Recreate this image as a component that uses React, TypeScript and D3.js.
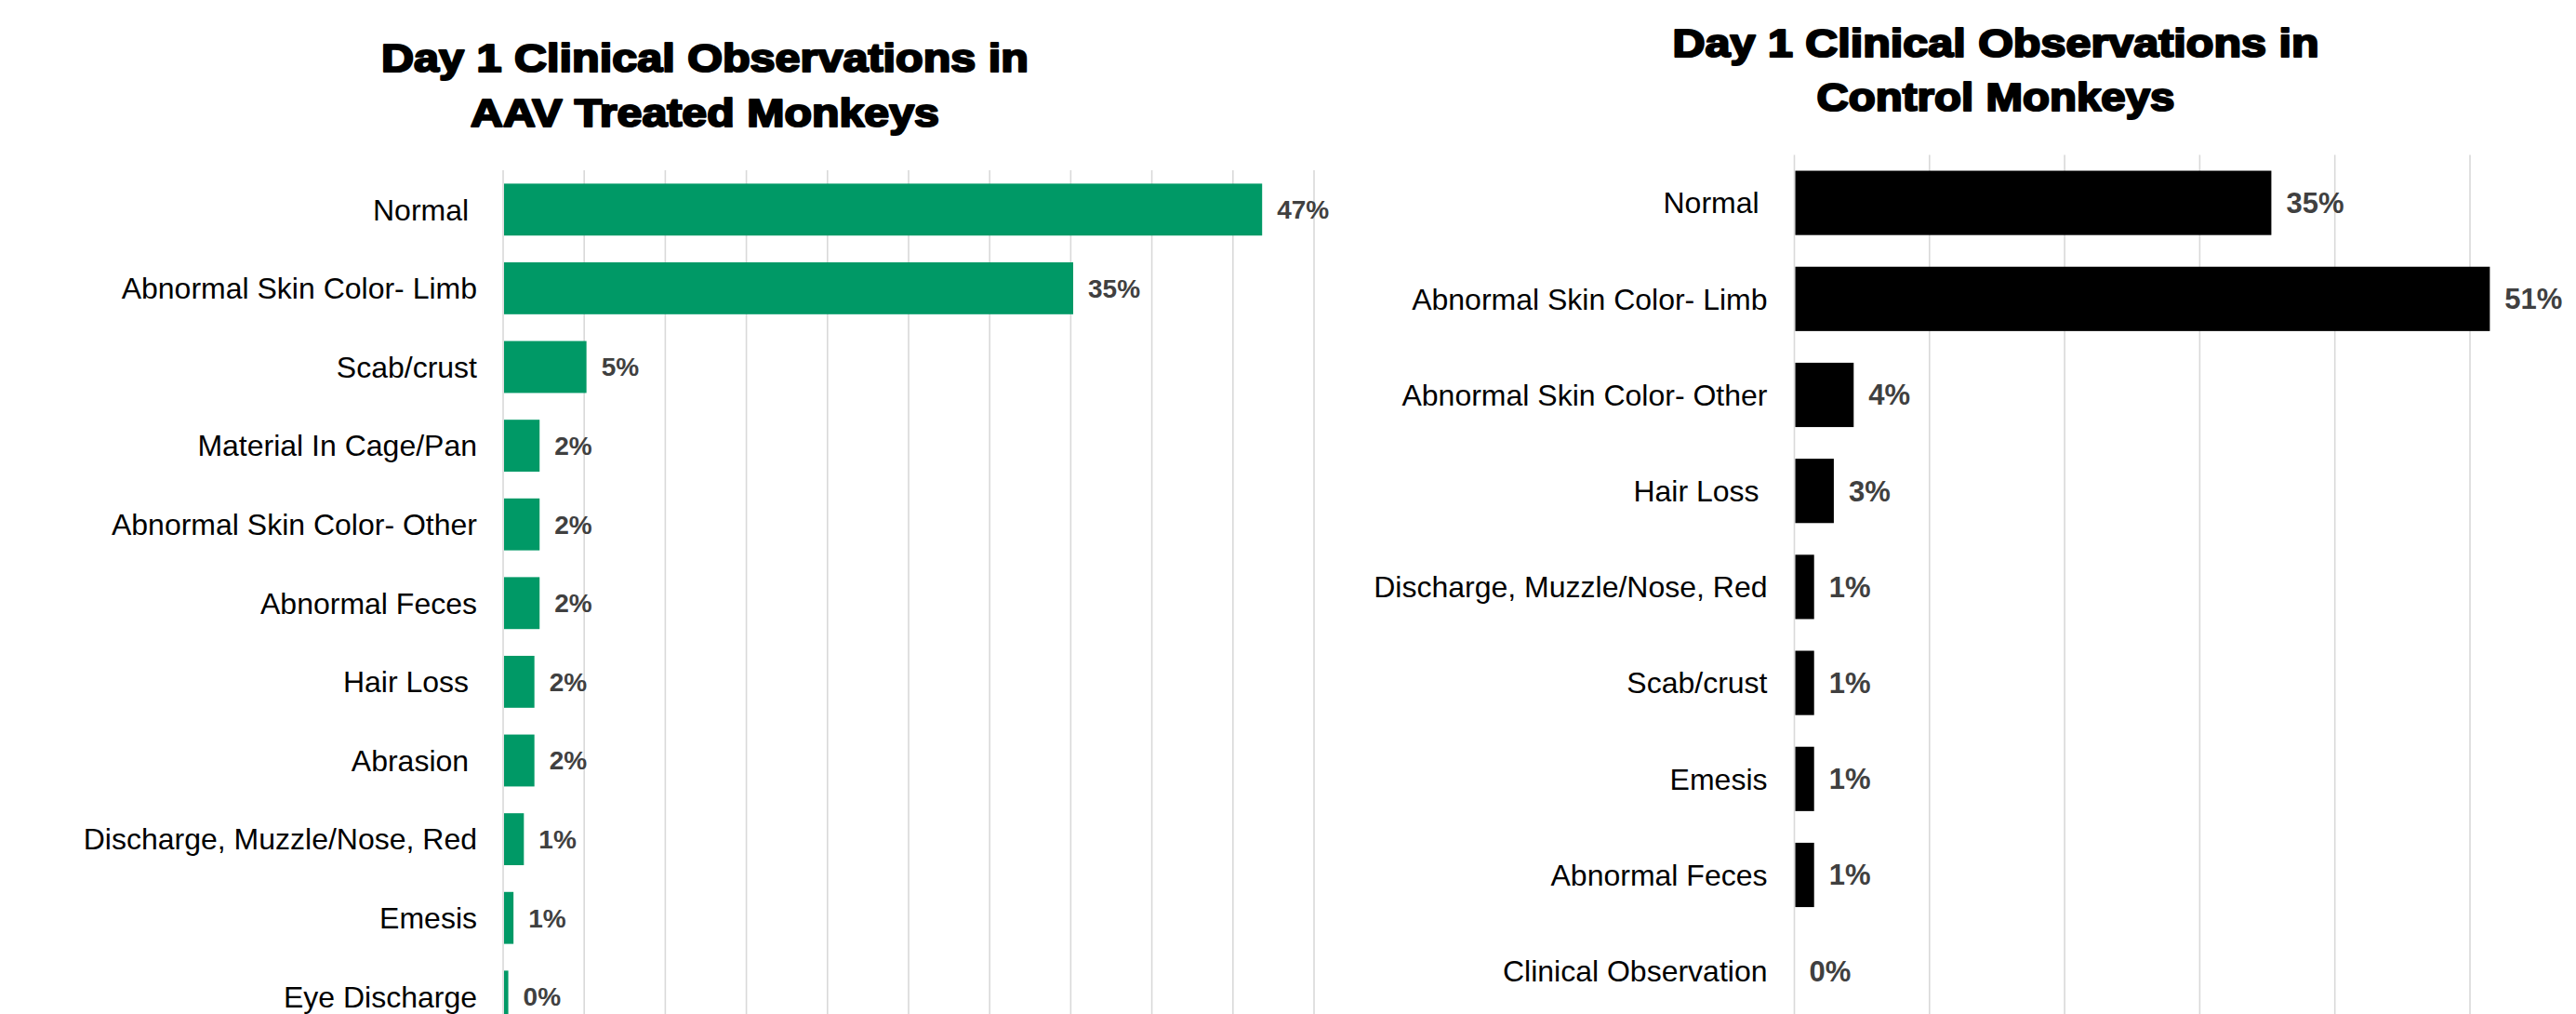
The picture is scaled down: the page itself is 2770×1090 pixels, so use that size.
import React from "react";
import * as d3 from "d3";

// AAV-treated group (share of observations)
const aavCategories = [
  "Normal ",
  "Abnormal Skin Color- Limb",
  "Scab/crust",
  "Material In Cage/Pan",
  "Abnormal Skin Color- Other",
  "Abnormal Feces",
  "Hair Loss ",
  "Abrasion ",
  "Discharge, Muzzle/Nose, Red",
  "Emesis",
  "Eye Discharge",
];
const aavValues = [0.468, 0.3515, 0.0514, 0.0225, 0.0225, 0.0225, 0.0193, 0.0193, 0.0128, 0.0064, 0.0032];

// Control group (share of observations)
const controlCategories = [
  "Normal ",
  "Abnormal Skin Color- Limb",
  "Abnormal Skin Color- Other",
  "Hair Loss ",
  "Discharge, Muzzle/Nose, Red",
  "Scab/crust",
  "Emesis",
  "Abnormal Feces",
  "Clinical Observation",
];
const controlValues = [0.353, 0.5147, 0.0439, 0.0292, 0.0146, 0.0146, 0.0146, 0.0146, 0];

const aavTitle = ["Day 1 Clinical Observations in", "AAV Treated Monkeys"];
const controlTitle = ["Day 1 Clinical Observations in", "Control Monkeys"];

const W = 2770;
const H = 1090;
const pct = d3.format(".0%");

type PanelProps = {
  categories: string[];
  values: number[];
  title: string[];
  titleX: number;
  titleBaselines: number[];
  titleLengths: number[];
  xDomainMax: number;
  tickCount: number;
  xRange: [number, number];
  yRange: [number, number];
  padInner: number;
  color: string;
  valueFontSize: number;
  labelGap: number;
};

function Panel(p: PanelProps) {
  const x = d3.scaleLinear().domain([0, p.xDomainMax]).range(p.xRange);
  const y = d3
    .scaleBand<string>()
    .domain(p.categories)
    .range(p.yRange)
    .paddingInner(p.padInner)
    .paddingOuter(p.padInner / 2);
  const ticks = x.ticks(p.tickCount);
  const gridTop = p.yRange[0];
  const gridBottom = p.yRange[1];

  return (
    <g>
      {p.title.map((t, i) => (
        <text
          key={i}
          x={p.titleX}
          y={p.titleBaselines[i]}
          textAnchor="middle"
          fontFamily="'Liberation Sans', Arial, sans-serif"
          fontWeight={700}
          fontSize={42}
          fill="#000"
          stroke="#000"
          strokeWidth={2.2}
          strokeLinejoin="round"
          textLength={p.titleLengths[i]}
          lengthAdjust="spacingAndGlyphs"
        >
          {t}
        </text>
      ))}

      {ticks.map((t) => (
        <line
          key={t}
          x1={x(t)}
          x2={x(t)}
          y1={gridTop}
          y2={gridBottom}
          stroke="#d9d9d9"
          strokeWidth={1.6}
        />
      ))}

      {p.categories.map((c, i) => {
        const v = p.values[i];
        const yy = y(c)!;
        const bw = y.bandwidth();
        const cy = yy + bw / 2;
        return (
          <g key={c}>
            {v > 0 && (
              <rect
                x={x(0) + 1}
                y={yy}
                width={Math.max(0, x(v) - x(0) - 1)}
                height={bw}
                fill={p.color}
              />
            )}
            <text
              x={x(0) - p.labelGap}
              y={cy}
              dy="0.35em"
              textAnchor="end"
              fontFamily="'Liberation Sans', Arial, sans-serif"
              fontSize={32}
              fill="#000"
              style={{ whiteSpace: "pre" }}
            >
              {c}
            </text>
            <text
              x={x(v) + 16}
              y={cy}
              dy="0.35em"
              textAnchor="start"
              fontFamily="'Liberation Sans', Arial, sans-serif"
              fontWeight={700}
              fontSize={p.valueFontSize}
              fill="#404040"
            >
              {pct(v)}
            </text>
          </g>
        );
      })}
    </g>
  );
}

export default function App() {
  return (
    <svg
      width={W}
      height={H}
      viewBox={`0 0 ${W} ${H}`}
      style={{ position: "absolute", left: 0, top: 0, display: "block", background: "#fff" }}
    >
      <rect width={W} height={H} fill="#fff" />
      <Panel
        categories={aavCategories}
        values={aavValues}
        title={aavTitle}
        titleX={758}
        titleBaselines={[77, 136]}
        titleLengths={[696, 504]}
        xDomainMax={0.5}
        tickCount={10}
        xRange={[541, 1413]}
        yRange={[183, 1113.6]}
        padInner={0.34}
        color="#009966"
        valueFontSize={28}
        labelGap={28}
      />
      <Panel
        categories={controlCategories}
        values={controlValues}
        title={controlTitle}
        titleX={2146}
        titleBaselines={[61, 119]}
        titleLengths={[695, 385]}
        xDomainMax={0.6}
        tickCount={6}
        xRange={[1929.5, 2801.3]}
        yRange={[166.5, 1095.3]}
        padInner={0.33}
        color="#000000"
        valueFontSize={31}
        labelGap={29}
      />
    </svg>
  );
}
